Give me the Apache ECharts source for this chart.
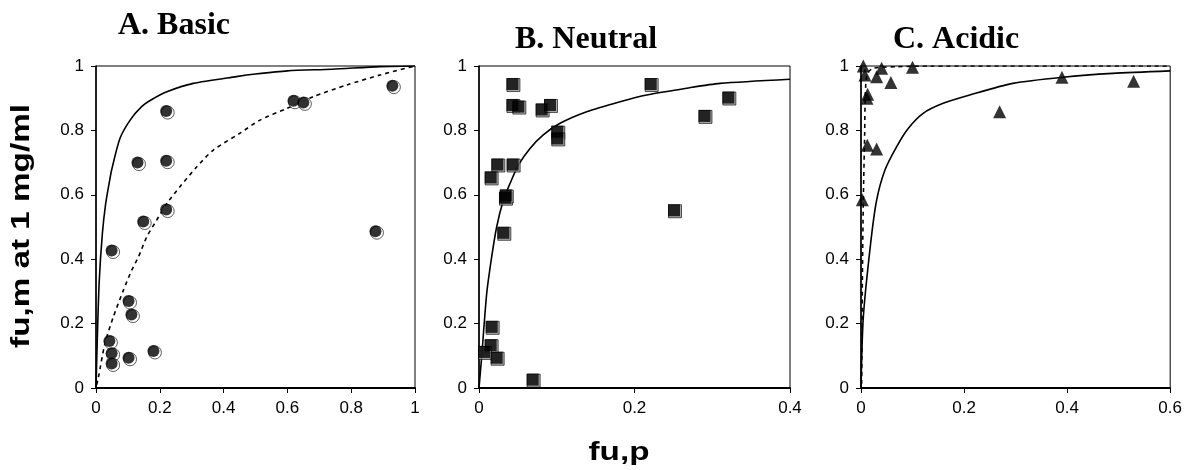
<!DOCTYPE html>
<html>
<head>
<meta charset="utf-8">
<script src="https://cdn.jsdelivr.net/npm/echarts@6/dist/echarts.min.js"></script>
<style>html,body{margin:0;padding:0;background:#fff;}#c{width:1185px;height:470px;}</style>
</head>
<body>
<div id="c"></div>
<script>
// ---- Data ----
const titles = ['A. Basic', 'B. Neutral', 'C. Acidic'];
const xTitle = 'fu,p';
const yTitle = 'fu,m at 1 mg/ml';
const xMax = [1, 0.4, 0.6];

const basicPoints = [
  [0.22, 0.86], [0.13, 0.70], [0.22, 0.706], [0.22, 0.554], [0.148, 0.517],
  [0.049, 0.427], [0.102, 0.27], [0.111, 0.228], [0.042, 0.146], [0.049, 0.108],
  [0.049, 0.076], [0.102, 0.094], [0.18, 0.115], [0.619, 0.892], [0.65, 0.887],
  [0.876, 0.487], [0.929, 0.939]
];
const basicSolid = [
  [0, 0], [0.004, 0.15], [0.01, 0.33], [0.02, 0.48], [0.03, 0.57], [0.041, 0.635],
  [0.049, 0.677], [0.075, 0.775], [0.107, 0.832], [0.143, 0.874], [0.175, 0.896],
  [0.222, 0.92], [0.305, 0.946], [0.44, 0.967], [0.5, 0.975], [0.6, 0.985],
  [0.74, 0.99], [0.89, 0.998], [1, 1]
];
const basicDashed = [
  [0.002, 0.01], [0.007, 0.03], [0.028, 0.138], [0.054, 0.22], [0.086, 0.304],
  [0.112, 0.366], [0.133, 0.407], [0.159, 0.469], [0.19, 0.521], [0.222, 0.573],
  [0.263, 0.625], [0.316, 0.687], [0.368, 0.739], [0.451, 0.791], [0.514, 0.832],
  [0.598, 0.868], [0.681, 0.905], [0.786, 0.941], [0.89, 0.972], [1, 1]
];

const neutralPoints = [
  [0.043, 0.944], [0.043, 0.879], [0.0506, 0.874], [0.0806, 0.865], [0.0913, 0.879],
  [0.1007, 0.796], [0.1007, 0.775], [0.0236, 0.694], [0.0433, 0.694], [0.015, 0.654],
  [0.0334, 0.591], [0.0345, 0.598], [0.0313, 0.482], [0.0163, 0.19], [0.015, 0.133],
  [0.0064, 0.112], [0.0227, 0.094], [0.069, 0.026], [0.2208, 0.944], [0.2508, 0.552],
  [0.29, 0.845], [0.3207, 0.902]
];
const neutralSolid = [
  [0, 0], [0.0034, 0.096], [0.0099, 0.293], [0.0163, 0.407], [0.0227, 0.5],
  [0.0313, 0.583], [0.0399, 0.635], [0.0506, 0.692], [0.0656, 0.744], [0.0827, 0.786],
  [0.1042, 0.822], [0.1385, 0.858], [0.1814, 0.889], [0.2157, 0.91], [0.267, 0.931],
  [0.31, 0.946], [0.4, 0.959]
];

const acidicPoints = [
  [0.0045, 1.0], [0.0077, 0.972], [0.0129, 0.912], [0.0115, 0.9], [0.0123, 0.754],
  [0.0303, 0.742], [0.0026, 0.585], [0.0303, 0.967], [0.04, 0.993], [0.058, 0.949],
  [0.1, 0.996], [0.269, 0.858], [0.39, 0.965], [0.529, 0.953]
];
const acidicSolid = [
  [0, 0], [0.0045, 0.22], [0.0187, 0.449], [0.0303, 0.583], [0.0465, 0.677],
  [0.069, 0.749], [0.0916, 0.806], [0.1206, 0.853], [0.1594, 0.884], [0.211, 0.91],
  [0.2948, 0.946], [0.3916, 0.965], [0.488, 0.977], [0.6, 0.985]
];
const acidicDashed = [
  [0.0013, 0.013], [0.0026, 0.324], [0.0045, 0.583], [0.0071, 0.79], [0.0084, 0.915],
  [0.0123, 0.977], [0.024, 0.993], [0.069, 0.998], [0.134, 1.0], [0.6, 1.0]
];

// ---- Layout ----
const grids = [
  {left: 96, top: 66, width: 319, height: 322},
  {left: 479, top: 66, width: 311, height: 322},
  {left: 861, top: 66, width: 310, height: 322}
];
const labelFont = {fontFamily: 'Liberation Sans', fontSize: 17, color: '#000'};

const chart = echarts.init(document.getElementById('c'), null, {renderer: 'canvas'});

const xAxes = xMax.map((m, i) => ({
  type: 'value', gridIndex: i, min: 0, max: m, interval: 0.2,
  axisLine: {show: true, onZero: false, lineStyle: {color: '#000', width: 2}},
  axisTick: {show: true, length: 5, lineStyle: {color: '#000'}},
  axisLabel: Object.assign({margin: 12, formatter: v => String(+v.toFixed(1))}, labelFont),
  splitLine: {show: false}
}));
const yAxes = grids.map((g, i) => ({
  type: 'value', gridIndex: i, min: 0, max: 1, interval: 0.2,
  axisLine: {show: true, onZero: false, lineStyle: {color: '#000', width: 1.5}},
  axisTick: {show: true, length: 5, lineStyle: {color: '#000'}},
  axisLabel: Object.assign({margin: 12, formatter: v => String(+v.toFixed(1))}, labelFont),
  splitLine: {show: false}
}));

function line(data, i, dashed) {
  return {
    type: 'line', xAxisIndex: i, yAxisIndex: i, data: data, showSymbol: false,
    smooth: 0.25, silent: true, z: 2,
    lineStyle: {color: '#000', width: 1.6, type: dashed ? [4, 4] : 'solid'}
  };
}
function markers(data, i, symbol, size, under, offset) {
  const s = [];
  if (under) {
    s.push({type: 'scatter', xAxisIndex: i, yAxisIndex: i, data: data, symbol: symbol,
      symbolSize: size + 1, symbolOffset: offset, clip: false, silent: true, z: 3,
      itemStyle: {color: under, borderColor: '#000', borderWidth: 0.8}});
  }
  s.push({type: 'scatter', xAxisIndex: i, yAxisIndex: i, data: data, symbol: symbol,
    symbolSize: size, clip: false, silent: true, z: 4, itemStyle: {color: '#000'}});
  return s;
}

const series = [].concat(
  [line(basicSolid, 0, false), line(basicDashed, 0, true)],
  markers(basicPoints, 0, 'circle', 12, '#fff', [1.5, 1.5]),
  [line(neutralSolid, 1, false)],
  markers(neutralPoints, 1, 'rect', 12, '#999', [1, 1]),
  [line(acidicSolid, 2, false), line(acidicDashed, 2, true)],
  markers(acidicPoints, 2, 'triangle', 13, null, null)
);

function titleText(txt, left, top) {
  return {type: 'text', left: left, top: top,
    style: {text: txt, fontFamily: 'Liberation Serif', fontWeight: 'bold', fontSize: 32, fill: '#000'}};
}
const graphic = [
  titleText(titles[0], 118, 10),
  titleText(titles[1], 515, 24),
  titleText(titles[2], 893, 24),
  {type: 'text', x: 619, y: 453, scaleX: 1.33,
    style: {text: xTitle, fontFamily: 'Liberation Sans', fontWeight: 'bold', fontSize: 25, fill: '#000', align: 'center', verticalAlign: 'middle'}},
  {type: 'text', x: 22, y: 226, rotation: Math.PI / 2, scaleX: 1.33,
    style: {text: yTitle, fontFamily: 'Liberation Sans', fontWeight: 'bold', fontSize: 25, fill: '#000', align: 'center', verticalAlign: 'middle'}}
];

chart.setOption({
  animation: false,
  backgroundColor: '#fff',
  grid: grids.map(g => Object.assign({show: true, borderColor: '#000', borderWidth: 1, backgroundColor: 'transparent'}, g)),
  xAxis: xAxes,
  yAxis: yAxes,
  series: series,
  graphic: graphic
});
</script>
</body>
</html>
